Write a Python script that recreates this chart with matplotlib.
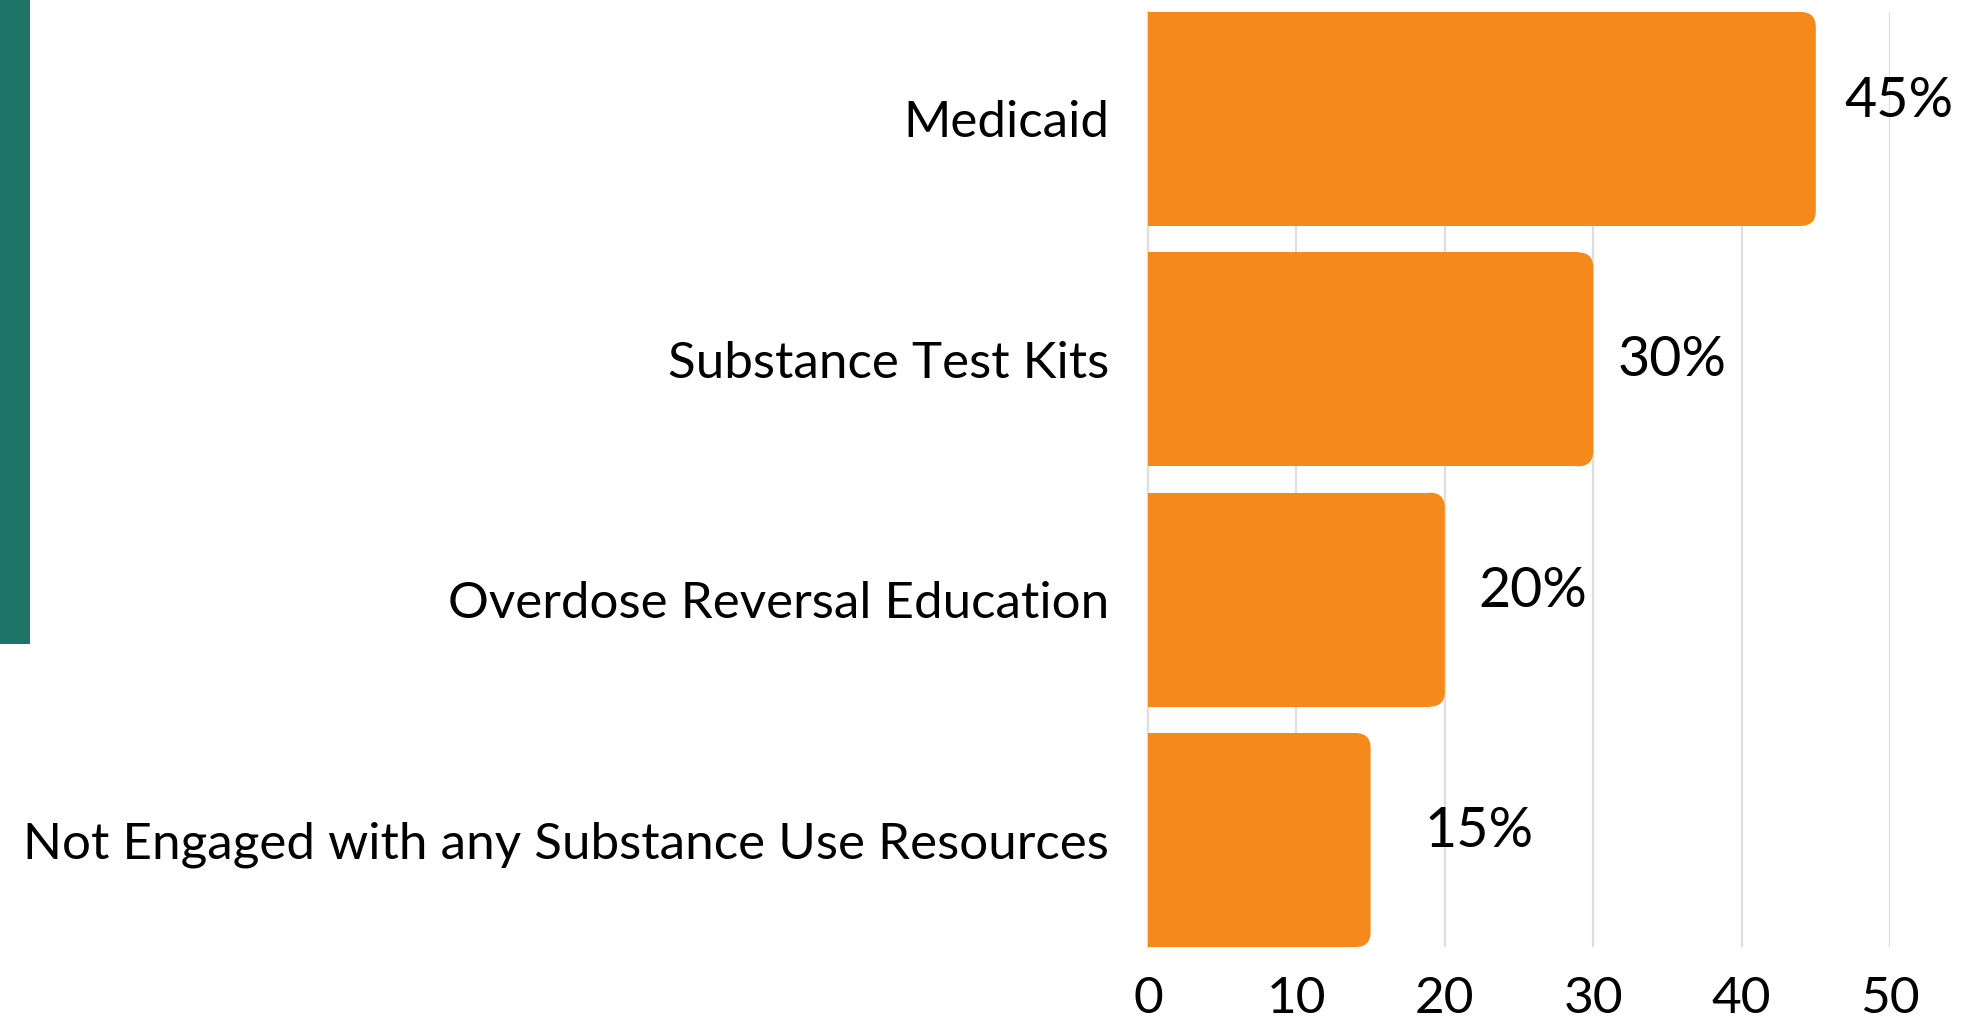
import matplotlib
matplotlib.use("Agg")
import matplotlib.pyplot as plt
from matplotlib.patches import FancyBboxPatch, Rectangle
import numpy as np

categories = ["Medicaid", "Substance Test Kits", "Overdose Reversal Education",
              "Not Engaged with any Substance Use Resources"]
values = [45, 30, 20, 15]
value_labels = ["45%", "30%", "20%", "15%"]
xticks = [0, 10, 20, 30, 40, 50]

BAR_COLOR = "#F58A1A"
TEAL = "#1E7567"
GRID = "#DEDEDE"
FONT = "Lato"

W, H = 1971, 1022
fig = plt.figure(figsize=(W / 100, H / 100), dpi=100)
fig.patch.set_facecolor("white")

# teal stripe on the left
fig.patches.append(Rectangle((0, 1 - 644 / H), 30 / W, 644 / H,
                             transform=fig.transFigure, facecolor=TEAL,
                             edgecolor="none", zorder=0))

ax_l, ax_r = 1148 / W, 1890 / W
ax_t, ax_b = 1 - 12 / H, 1 - 947 / H
ax = fig.add_axes([ax_l, ax_b, ax_r - ax_l, ax_t - ax_b])

h = 0.89
pos = np.arange(len(categories))
ax.set_xlim(0, 50)
ax.set_ylim(len(categories) - 1 + h / 2, -h / 2)

# pixel -> data conversions
ax_w_px = (ax_r - ax_l) * W
ax_h_px = (ax_t - ax_b) * H
dx = 50 / ax_w_px
dy = (len(categories) - 1 + h) / ax_h_px
r_px = 15
rx, ry = r_px * dx, r_px * dy

vals = np.array(values, dtype=float)
# square-left part of the bars
ax.barh(pos, vals - rx, height=h, color=BAR_COLOR, edgecolor="none", zorder=3)
# rounded right end
for p, v in zip(pos, vals):
    patch = FancyBboxPatch((v - 2 * rx, p - h / 2), 2 * rx, h,
                           boxstyle=f"round,pad=0,rounding_size={rx}",
                           mutation_aspect=ry / rx,
                           facecolor=BAR_COLOR, edgecolor="none", zorder=3)
    ax.add_patch(patch)

# value labels
lab_off_px = [29, 24, 34, 54]
lab_dy_px = [-17, 1, -8, -9]
for p, v, t, ox, oy in zip(pos, vals, value_labels, lab_off_px, lab_dy_px):
    ax.text(v + ox * dx, p + oy * dy, t, ha="left", va="center",
            fontsize=40, family=FONT, color="black", clip_on=False)

ax.set_yticks(pos)
ax.set_yticklabels(categories, fontsize=36.8, family=FONT)
ax.set_xticks(xticks)
ax.set_xticklabels([str(x) for x in xticks], fontsize=37, family=FONT)
ax.tick_params(axis="both", length=0)
ax.tick_params(axis="y", pad=28)
ax.tick_params(axis="x", pad=21)

ax.grid(axis="x", color=GRID, linewidth=1.6, zorder=0)
ax.set_axisbelow(True)
for s in ["top", "right", "bottom"]:
    ax.spines[s].set_visible(False)
ax.spines["left"].set_color(GRID)
ax.spines["left"].set_linewidth(1.6)

fig.savefig("out.png", dpi=100, facecolor="white")
